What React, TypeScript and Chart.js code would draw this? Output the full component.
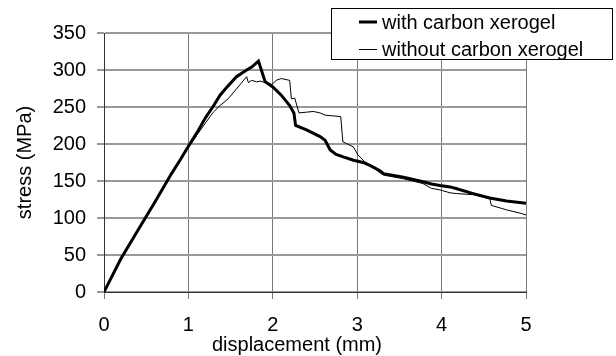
import React, { useEffect, useRef } from 'react';
import { Chart, registerables } from 'chart.js';

Chart.register(...registerables);

const xTicks = [0, 1, 2, 3, 4, 5];
const yTicks = [0, 50, 100, 150, 200, 250, 300, 350];
const seriesNames = ['with carbon xerogel', 'without carbon xerogel'];
const xTitle = 'displacement (mm)';
const yTitle = 'stress (MPa)';

const withX = [0, 0.2, 0.4, 0.6, 0.8, 0.9, 1.0, 1.1, 1.2, 1.3, 1.375, 1.45, 1.57, 1.69, 1.75, 1.83, 1.85, 1.91, 2.0, 2.1, 2.2, 2.25, 2.27, 2.4, 2.56, 2.62, 2.68, 2.75, 2.835, 2.955, 3.07, 3.15, 3.27, 3.31, 3.45, 3.55, 3.78, 3.88, 3.98, 4.1, 4.18, 4.375, 4.57, 4.77, 5.0];
const withY = [0, 45, 83, 121, 160, 178, 197, 215, 235, 252, 266, 276, 291, 300, 304, 312, 305, 284, 277, 266, 252, 242, 225, 219, 210, 205, 192, 186, 182.5, 178, 175, 171, 164, 160, 157, 155, 149, 146, 144, 142, 139.5, 133, 127, 123, 120];

const withoutX = [0, 0.2, 0.4, 0.6, 0.8, 1.0, 1.1, 1.2, 1.295, 1.375, 1.47, 1.61, 1.69, 1.71, 1.75, 1.81, 1.85, 1.91, 1.99, 2.04, 2.1, 2.2, 2.22, 2.26, 2.31, 2.4, 2.48, 2.56, 2.62, 2.805, 2.83, 2.955, 3.01, 3.09, 3.31, 3.55, 3.78, 3.88, 3.98, 4.1, 4.18, 4.375, 4.57, 4.59, 4.77, 4.95, 5.0];
const withoutY = [0, 44, 82, 120, 159, 195, 212, 228, 243, 252, 261, 280, 291, 283, 286, 284, 285, 283, 280.5, 286, 288.5, 286, 261, 262, 242, 243, 244, 242, 239, 237, 203, 196, 185, 176, 158, 153, 146.5, 140, 138, 134, 133, 131.5, 126, 117, 111, 106, 104];

const FONT = '"Liberation Sans", Arial, sans-serif';

const extrasPlugin = {
  id: 'extras',
  afterDraw(chart: any) {
    const ctx = chart.ctx as CanvasRenderingContext2D;
    ctx.save();
    // x axis title
    ctx.font = `20px ${FONT}`;
    ctx.fillStyle = '#000';
    ctx.textAlign = 'center';
    ctx.textBaseline = 'alphabetic';
    ctx.fillText(xTitle, 297, 351);
    // legend box
    ctx.fillStyle = '#fff';
    ctx.fillRect(331, 8, 282, 52);
    ctx.strokeStyle = '#000';
    ctx.lineWidth = 1;
    ctx.strokeRect(331.5, 8.5, 281, 51);
    const widths = [3, 1];
    const lineYs = [22, 49.5];
    const textYs = [28.5, 55.5];
    seriesNames.forEach((name, i) => {
      ctx.beginPath();
      ctx.lineWidth = widths[i];
      ctx.strokeStyle = '#000';
      ctx.moveTo(359, lineYs[i]);
      ctx.lineTo(377, lineYs[i]);
      ctx.stroke();
      ctx.fillStyle = '#000';
      ctx.textAlign = 'left';
      ctx.fillText(name, 382, textYs[i]);
    });
    ctx.restore();
  },
};

export default function App() {
  const ref = useRef<HTMLCanvasElement>(null);
  useEffect(() => {
    if (!ref.current) return;
    Chart.defaults.font.family = FONT;
    Chart.defaults.font.size = 20;
    Chart.defaults.color = '#000';
    const chart = new Chart(ref.current, {
      type: 'line',
      data: {
        datasets: [
          {
            label: seriesNames[0],
            data: withX.map((x, i) => ({ x, y: withY[i] })),
            borderColor: '#000',
            borderWidth: 3,
            pointRadius: 0,
            tension: 0,
            fill: false,
          },
          {
            label: seriesNames[1],
            data: withoutX.map((x, i) => ({ x, y: withoutY[i] })),
            borderColor: '#000',
            borderWidth: 1,
            pointRadius: 0,
            tension: 0,
            fill: false,
          },
        ],
      },
      options: {
        responsive: false,
        animation: false,
        layout: { padding: { top: 33, right: 90, left: 0, bottom: 0 } },
        plugins: { legend: { display: false }, tooltip: { enabled: false } },
        scales: {
          x: {
            type: 'linear',
            min: 0,
            max: 5,
            afterBuildTicks: (s: any) => {
              s.ticks = xTicks.map((v) => ({ value: v }));
            },
            afterFit: (s: any) => {
              s.height = 64;
            },
            grid: { color: '#777', lineWidth: 1, tickLength: 7 },
            border: { display: true, color: '#333', width: 1 },
            ticks: { padding: 14, font: { size: 20 }, color: '#000', maxRotation: 0 },
          },
          y: {
            type: 'linear',
            min: 0,
            max: 350,
            afterBuildTicks: (s: any) => {
              s.ticks = yTicks.map((v) => ({ value: v }));
            },
            afterFit: (s: any) => {
              s.width = 104;
            },
            grid: { color: '#999', lineWidth: 2, tickLength: 7 },
            border: { display: true, color: '#333', width: 1 },
            ticks: { padding: 11, font: { size: 20 }, color: '#000' },
            title: { display: true, text: yTitle, font: { size: 20 }, color: '#000', padding: { top: 13, bottom: 0 } },
          },
        },
      },
      plugins: [extrasPlugin],
    });
    return () => chart.destroy();
  }, []);
  return (
    <div style={{ position: 'fixed', left: 0, top: 0, width: 616, height: 356, background: '#fff' }}>
      <canvas ref={ref} width={616} height={356} style={{ width: 616, height: 356 }} />
    </div>
  );
}
